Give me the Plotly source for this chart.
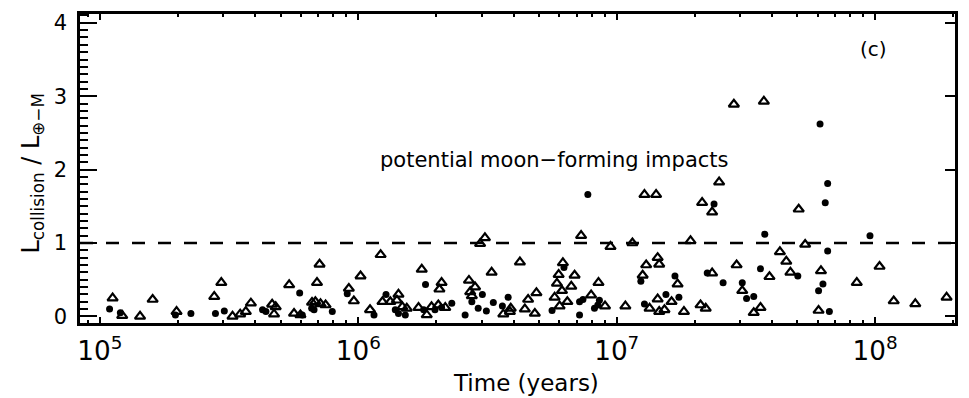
import plotly.graph_objects as go

# ---- data ----
tri_time = [1.12e5, 1.22e5, 1.43e5, 1.60e5, 1.98e5, 2.77e5, 2.95e5, 3.26e5, 3.49e5, 3.67e5,
            3.84e5, 4.64e5, 4.79e5, 4.72e5, 5.40e5, 5.64e5, 5.97e5, 6.92e5, 7.08e5, 6.82e5,
            7.14e5, 7.47e5, 6.62e5, 9.19e5, 9.61e5, 1.02e6, 1.11e6, 1.22e6, 1.24e6, 1.33e6,
            1.43e6, 1.41e6, 1.48e6, 1.54e6, 1.76e6, 1.71e6, 1.84e6, 1.92e6, 2.04e6, 2.17e6,
            2.10e6, 2.06e6, 3.09e6, 2.96e6, 2.68e6, 2.83e6, 2.71e6, 2.75e6, 3.28e6, 3.64e6,
            3.86e6, 3.89e6, 4.22e6, 4.54e6, 4.41e6, 4.89e6, 4.82e6, 7.28e6, 9.46e6, 1.15e7,
            1.93e7, 6.19e6, 5.96e6, 6.87e6, 5.87e6, 6.67e6, 8.50e6, 6.14e6, 5.75e6, 6.44e6,
            6.01e6, 7.96e6, 9.01e6, 1.08e7, 1.30e7, 1.26e7, 1.44e7, 1.46e7, 1.72e7, 1.44e7,
            1.63e7, 1.34e7, 1.46e7, 1.53e7, 1.82e7, 2.11e7, 2.21e7, 2.34e7, 2.91e7, 3.90e7,
            3.06e7, 3.60e7, 3.39e7, 5.36e7, 4.28e7, 4.53e7, 4.70e7, 6.17e7, 1.04e8, 8.49e7,
            6.04e7, 1.18e8, 1.43e8, 1.89e8, 2.84e7, 3.71e7, 1.28e7, 1.42e7, 2.49e7, 2.14e7,
            2.34e7, 5.06e7]
tri_L = [0.25, 0.01, 0.00, 0.23, 0.065, 0.27, 0.46, 0.00, 0.03, 0.065,
         0.18, 0.165, 0.13, 0.03, 0.43, 0.04, 0.02, 0.46, 0.71, 0.20,
         0.17, 0.155, 0.19, 0.38, 0.21, 0.55, 0.09, 0.84, 0.20, 0.20,
         0.30, 0.22, 0.13, 0.11, 0.64, 0.12, 0.02, 0.13, 0.155, 0.12,
         0.46, 0.37, 1.07, 0.99, 0.49, 0.40, 0.335, 0.28, 0.60, 0.03,
         0.065, 0.11, 0.74, 0.23, 0.10, 0.32, 0.04, 1.10, 0.95, 1.00,
         1.03, 0.73, 0.57, 0.56, 0.45, 0.41, 0.46, 0.35, 0.26, 0.20,
         0.14, 0.29, 0.14, 0.14, 0.70, 0.56, 0.80, 0.71, 0.44, 0.235,
         0.20, 0.11, 0.065, 0.09, 0.065, 0.155, 0.11, 0.59, 0.70, 0.54,
         0.35, 0.12, 0.05, 0.98, 0.88, 0.75, 0.60, 0.62, 0.68, 0.46,
         0.08, 0.21, 0.17, 0.26, 2.89, 2.93, 1.66, 1.66, 1.83, 1.55,
         1.42, 1.46]

dot_time = [1.09e5, 1.20e5, 1.96e5, 2.25e5, 2.80e5, 3.03e5, 4.26e5, 4.39e5, 5.93e5, 6.60e5,
            6.74e5, 7.93e5, 6.07e5, 9.06e5, 1.15e6, 1.28e6, 1.39e6, 1.43e6, 1.52e6, 1.82e6,
            1.79e6, 1.98e6, 2.10e6, 2.30e6, 2.59e6, 3.02e6, 2.75e6, 2.91e6, 3.13e6, 3.33e6,
            3.80e6, 3.61e6, 6.25e6, 5.62e6, 7.18e6, 7.18e6, 7.40e6, 8.57e6, 8.45e6, 8.20e6,
            1.24e7, 1.68e7, 1.55e7, 1.74e7, 1.28e7, 2.24e7, 2.58e7, 3.60e7, 3.06e7, 3.18e7,
            3.39e7, 3.74e7, 9.55e7, 6.55e7, 5.02e7, 6.28e7, 6.04e7, 6.65e7, 6.12e7, 7.73e6,
            2.38e7, 6.55e7, 6.41e7]
dot_L = [0.10, 0.05, 0.02, 0.04, 0.04, 0.075, 0.09, 0.065, 0.32, 0.11,
         0.09, 0.065, 0.02, 0.31, 0.02, 0.30, 0.09, 0.04, 0.02, 0.435,
         0.09, 0.09, 0.12, 0.18, 0.02, 0.30, 0.20, 0.11, 0.075, 0.19,
         0.26, 0.14, 0.665, 0.08, 0.02, 0.20, 0.23, 0.22, 0.155, 0.11,
         0.48, 0.55, 0.30, 0.26, 0.17, 0.59, 0.46, 0.65, 0.46, 0.245,
         0.27, 1.12, 1.10, 0.89, 0.55, 0.44, 0.35, 0.065, 2.62, 1.66,
         1.53, 1.81, 1.55]

threshold = 1.0

FONT = "DejaVu Sans"

fig = go.Figure()
fig.add_trace(go.Scatter(
    x=tri_time, y=tri_L, mode="markers",
    marker=dict(symbol="triangle-up-open", size=9, color="black", line=dict(width=2.2, color="black")),
    showlegend=False, hoverinfo="skip"))
fig.add_trace(go.Scatter(
    x=dot_time, y=dot_L, mode="markers",
    marker=dict(symbol="circle", size=7, color="black", line=dict(width=0)),
    showlegend=False, hoverinfo="skip"))

fig.add_shape(type="line", xref="paper", x0=0, x1=1, yref="y", y0=threshold, y1=threshold,
              line=dict(color="black", width=2.5, dash="13px,13px"))

ann = dict(xref="paper", yref="paper", showarrow=False, xanchor="center", yanchor="middle")
fig.add_annotation(text="potential moon\u2212forming impacts", x=0.542, y=0.529,
                   font=dict(family=FONT, size=21, color="black"), **ann)
fig.add_annotation(text="(c)", x=0.9066, y=0.887,
                   font=dict(family=FONT, size=20, color="black"), **ann)
fig.add_annotation(text="Time (years)", x=0.510, y=-0.1935,
                   font=dict(family=FONT, size=23, color="black"), **ann)
fig.add_annotation(text="L<sub>collision</sub> / L<sub>\u2295\u2212M</sub>",
                   x=-0.0547, y=0.484, textangle=-90,
                   font=dict(family=FONT, size=24, color="black"), **ann)

fig.update_layout(
    width=969, height=398,
    margin=dict(l=80, r=11, t=13, b=75),
    paper_bgcolor="white", plot_bgcolor="white",
    font=dict(family=FONT, size=21, color="black"),
    xaxis=dict(type="log", range=[4.923, 8.309], tickmode="linear", tick0=0, dtick=1,
               exponentformat="power", showexponent="all",
               ticks="inside", ticklen=6, tickwidth=2, tickcolor="black",
               showline=True, linewidth=2.5, linecolor="black", mirror="ticks",
               showgrid=False, zeroline=False, ticklabelstandoff=4,
               minor=dict(dtick="D1", ticks="inside", ticklen=3,
                          tickwidth=2, tickcolor="black", showgrid=False)),
    yaxis=dict(range=[-0.09, 4.12], tickmode="linear", tick0=0, dtick=1,
               ticks="inside", ticklen=17, tickwidth=2, tickcolor="black",
               showline=True, linewidth=2.5, linecolor="black", mirror=True,
               showgrid=False, zeroline=False, ticklabelstandoff=6,
               minor=dict(tick0=0, dtick=0.1, ticks="inside", ticklen=8, tickwidth=2,
                          tickcolor="black", showgrid=False)),
    yaxis2=dict(range=[-0.09, 4.12], overlaying="y", side="right", tickmode="linear",
                tick0=0, dtick=1, ticks="inside", ticklen=10, tickwidth=2,
                tickcolor="black", showticklabels=False, showgrid=False, zeroline=False,
                showline=False),
)
# invisible trace to activate the right-hand tick axis
fig.add_trace(go.Scatter(x=[tri_time[0]], y=[tri_L[0]], yaxis="y2", mode="markers",
                         marker=dict(opacity=0), showlegend=False, hoverinfo="skip"))

fig.write_html("out.html")
